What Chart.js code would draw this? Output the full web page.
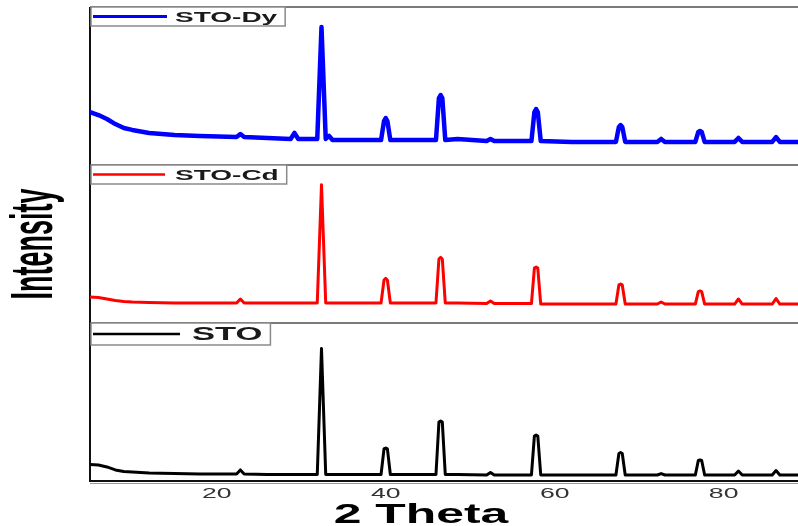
<!DOCTYPE html>
<html>
<head>
<meta charset="utf-8">
<title>XRD STO / STO-Cd / STO-Dy</title>
<script src="https://cdn.jsdelivr.net/npm/chart.js@4.4.0/dist/chart.umd.min.js"></script>
<style>
  html, body { margin: 0; padding: 0; background: #fff; }
  #wrap { width: 798px; height: 526px; }
</style>
</head>
<body>
<div id="wrap"><canvas id="grafico"></canvas></div>
<script>
// 2θ positions shared by the three patterns (degrees)
const twoTheta = [5.0, 6.0, 7.0, 8.0, 9.0, 10.0, 12.0, 15.0, 18.0,
  22.35, 22.8, 23.25, 26.0,
  28.75, 29.2, 29.65,
  31.9, 32.4, 32.9, 33.3, 33.7, 36.0,
  39.45, 39.8, 40.0, 40.2, 40.55,
  45.95, 46.3, 46.5, 46.7, 47.05, 48.5,
  51.95, 52.4, 52.85,
  57.25, 57.6, 57.8, 58.0, 58.35, 62.0,
  67.25, 67.6, 67.8, 68.0, 68.35,
  72.15, 72.6, 73.05,
  76.65, 77.0, 77.2, 77.4, 77.75,
  81.3, 81.75, 82.2,
  85.75, 86.2, 86.65, 89.5];

// intensities (a.u., each panel 0-100)
const intDy = [33.5, 31.6, 29.1, 25.9, 23.4, 22.2, 20.3, 19.0, 18.4,
  17.7, 19.6, 17.7, 17.1,
  16.5, 20.3, 16.5,
  16.5, 87.3, 16.5, 18.4, 15.8, 15.8,
  15.8, 27.8, 29.7, 27.8, 15.8,
  15.8, 42.4, 44.3, 42.4, 15.8, 16.5,
  15.2, 16.5, 15.2,
  15.2, 33.5, 35.4, 33.5, 15.2, 14.6,
  14.6, 24.1, 25.3, 24.1, 14.6,
  14.6, 16.5, 14.6,
  14.6, 20.9, 21.5, 20.9, 14.6,
  14.6, 17.1, 14.6,
  14.6, 17.7, 14.6, 14.6];

const intCd = [16.5, 16.1, 15.2, 14.2, 13.6, 13.3, 13.0, 12.7, 12.7,
  12.7, 15.2, 12.7, 12.7,
  12.7, 12.7, 12.7,
  12.7, 87.5, 12.7, 12.7, 12.7, 12.7,
  12.7, 27.2, 28.2, 27.2, 12.7,
  12.7, 40.5, 41.5, 40.5, 12.7, 12.7,
  12.3, 13.9, 12.3,
  12.3, 34.8, 35.4, 34.8, 12.0, 12.0,
  12.0, 24.1, 24.7, 24.1, 12.0,
  12.0, 13.3, 12.0,
  12.0, 19.9, 20.3, 19.9, 12.0,
  12.0, 15.2, 12.0,
  12.0, 15.5, 12.0, 12.0];

const intSTO = [10.4, 10.1, 8.9, 7.0, 6.0, 5.7, 5.1, 4.7, 4.4,
  4.4, 7.0, 4.4, 4.1,
  4.1, 4.1, 4.1,
  4.1, 83.9, 4.1, 4.1, 4.1, 4.1,
  4.1, 20.3, 20.9, 20.3, 4.1,
  4.1, 37.3, 38.0, 37.3, 4.1, 4.1,
  3.8, 5.4, 3.8,
  3.8, 28.5, 29.1, 28.5, 3.8, 3.8,
  3.8, 17.4, 18.0, 17.4, 3.8,
  3.8, 4.7, 3.8,
  3.8, 13.0, 13.3, 13.0, 3.8,
  3.8, 6.3, 3.8,
  3.8, 6.6, 3.8, 3.8];

const seriesNames = ["STO-Dy", "STO-Cd", "STO"];
const xTicks = [20, 40, 60, 80];
const xTitle = "2 Theta";
const yTitle = "Intensity";

const FONT = '"Liberation Sans", Arial, sans-serif';

// texto ensanchado (la figura original está estirada en horizontal)
function wideText(ctx, text, x, y, size, sx, weight, align) {
  ctx.save();
  ctx.font = `${weight} ${size}px ${FONT}`;
  ctx.translate(x, y);
  ctx.scale(sx, 1);
  ctx.textAlign = align;
  ctx.textBaseline = "alphabetic";
  ctx.fillText(text, 0, 0);
  ctx.restore();
}

const toXY = vals => twoTheta.map((t, i) => ({ x: t, y: vals[i] }));

const panelLegend = {
  id: "panelLegend",
  beforeDatasetsDraw(chart) {
    const ctx = chart.ctx;
    const a = chart.chartArea;
    ctx.save();
    // separadores entre paneles
    ctx.strokeStyle = "#7a7a7a";
    ctx.lineWidth = 2;
    ["y1", "y2", "y3"].forEach(id => {
      const s = chart.scales[id];
      ctx.beginPath();
      ctx.moveTo(a.left, s.top);
      ctx.lineTo(a.right, s.top);
      ctx.stroke();
    });
    // eje inferior doble
    ctx.strokeStyle = "#111";
    ctx.beginPath();
    ctx.moveTo(a.left, a.bottom);
    ctx.lineTo(a.right, a.bottom);
    ctx.stroke();
    ctx.strokeStyle = "#999";
    ctx.lineWidth = 1;
    ctx.beginPath();
    ctx.moveTo(a.left, a.bottom + 2.5);
    ctx.lineTo(a.right, a.bottom + 2.5);
    ctx.stroke();
    // eje izquierdo
    ctx.strokeStyle = "#111";
    ctx.lineWidth = 2;
    ctx.beginPath();
    ctx.moveTo(a.left, a.top);
    ctx.lineTo(a.left, a.bottom + 1);
    ctx.stroke();
    ctx.restore();
  },
  afterDatasetsDraw(chart) {
    const ctx = chart.ctx;
    const a = chart.chartArea;
    const boxes = [
      { id: "y1", h: 19, line: 74, size: 14, sx: 2.0, gap: 8 },
      { id: "y2", h: 19, line: 72, size: 14, sx: 2.0, gap: 10 },
      { id: "y3", h: 22, line: 87, size: 18, sx: 1.92, gap: 12 }
    ];
    boxes.forEach((b, i) => {
      const s = chart.scales[b.id];
      const ds = chart.data.datasets[i];
      const x0 = a.left + 1;
      const y0 = s.top;
      ctx.save();
      ctx.font = `bold ${b.size}px ${FONT}`;
      const tw = ctx.measureText(ds.label).width * b.sx;
      const textX = x0 + 2 + b.line + b.gap;
      const w = textX + tw + 8 - x0;
      ctx.fillStyle = "#fff";
      ctx.fillRect(x0, y0, w, b.h);
      ctx.strokeStyle = "#8a8a8a";
      ctx.lineWidth = 1.5;
      ctx.strokeRect(x0, y0, w, b.h);
      ctx.strokeStyle = ds.borderColor;
      ctx.lineWidth = i === 0 ? 3 : 2.5;
      ctx.beginPath();
      ctx.moveTo(x0 + 2, y0 + b.h / 2);
      ctx.lineTo(x0 + 2 + b.line, y0 + b.h / 2);
      ctx.stroke();
      ctx.fillStyle = "#1a1a1a";
      wideText(ctx, ds.label, textX, y0 + b.h / 2 + b.size * 0.36, b.size, b.sx, "bold", "left");
      ctx.restore();
    });
  },
  afterDraw(chart) {
    const ctx = chart.ctx;
    const a = chart.chartArea;
    const x = chart.scales.x;
    ctx.save();
    ctx.fillStyle = "#333";
    xTicks.forEach(v => {
      wideText(ctx, String(v), x.getPixelForValue(v), 498, 14, 1.9, "normal", "center");
    });
    ctx.fillStyle = "#000";
    wideText(ctx, xTitle, 421, 523, 28, 1.78, "bold", "center");
    // título vertical
    ctx.translate(52, (a.top + a.bottom) / 2);
    ctx.rotate(-Math.PI / 2);
    ctx.scale(1, 2.2);
    ctx.font = `bold 27px ${FONT}`;
    ctx.textAlign = "center";
    ctx.textBaseline = "alphabetic";
    ctx.fillText(yTitle, 0, 0);
    ctx.restore();
  }
};

const yPanel = (weight) => ({
  type: "linear",
  position: "left",
  stack: "xrd",
  stackWeight: 1,
  weight: weight,
  min: 0,
  max: 100,
  grid: { display: false },
  border: { display: false },
  ticks: { display: false }
});

new Chart(document.getElementById("grafico"), {
  type: "line",
  data: {
    datasets: [
      { label: seriesNames[0], data: toXY(intDy), yAxisID: "y1", borderColor: "#0000ff", borderWidth: 4.5 },
      { label: seriesNames[1], data: toXY(intCd), yAxisID: "y2", borderColor: "#ff0000", borderWidth: 3 },
      { label: seriesNames[2], data: toXY(intSTO), yAxisID: "y3", borderColor: "#000000", borderWidth: 3 }
    ]
  },
  options: {
    responsive: true,
    maintainAspectRatio: false,
    animation: false,
    devicePixelRatio: 1,
    layout: { padding: { left: 82, top: 7, right: 0, bottom: 37 } },
    elements: {
      point: { radius: 0 },
      line: { tension: 0, borderJoinStyle: "round", borderCapStyle: "round" }
    },
    plugins: { legend: { display: false }, tooltip: { enabled: false } },
    scales: {
      x: {
        type: "linear",
        min: 5,
        max: 88.8,
        grid: { display: false },
        border: { display: false },
        ticks: { display: false },
        afterBuildTicks: s => { s.ticks = xTicks.map(v => ({ value: v })); }
      },
      y1: yPanel(3),
      y2: yPanel(2),
      y3: yPanel(1)
    }
  },
  plugins: [panelLegend]
});
</script>
</body>
</html>
